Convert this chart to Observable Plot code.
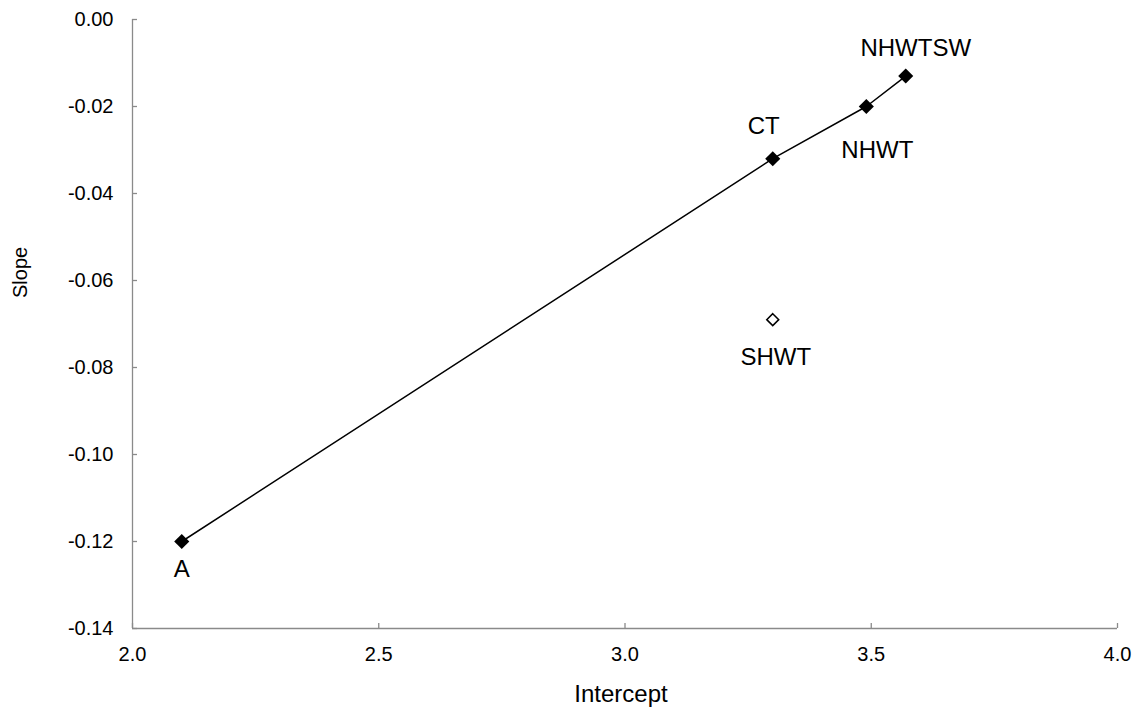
<!DOCTYPE html>
<html>
<head>
<meta charset="utf-8">
<script src="https://cdn.jsdelivr.net/npm/d3@7"></script>
<script src="https://cdn.jsdelivr.net/npm/@observablehq/plot@0.6"></script>
<style>
  html, body { margin: 0; padding: 0; background: #fff; }
  #chart svg { display: block; }
</style>
</head>
<body>
<div id="chart"></div>
<script>
// Data
const names      = ["A", "CT", "NHWT", "NHWTSW", "SHWT"];
const intercepts = [2.10, 3.30, 3.49, 3.57, 3.30];
const slopes     = [-0.120, -0.032, -0.020, -0.013, -0.069];
const onLine     = [true, true, true, true, false];

const xTicks = [2.0, 2.5, 3.0, 3.5, 4.0];
const yTicks = [0.00, -0.02, -0.04, -0.06, -0.08, -0.10, -0.12, -0.14];

const data = names.map((n, i) => ({name: n, x: intercepts[i], y: slopes[i], line: onLine[i]}));
const lineData = data.filter(d => d.line).sort((a, b) => a.x - b.x);
const openData = data.filter(d => !d.line);

const font = "'Liberation Sans', Arial, sans-serif";
const axisGray = "#8a8a8a";

// label offsets (style), per label
const labelOffsets = {A: [0, 28], CT: [-9, -32], NHWT: [11, 44], NHWTSW: [10, -28], SHWT: [3, 38]};

const plot = Plot.plot({
  width: 1132,
  height: 714,
  marginLeft: 132,
  marginRight: 15,
  marginTop: 19,
  marginBottom: 86,
  style: {fontFamily: font, fontSize: "20px", color: "#000", background: "#fff"},
  x: {domain: [2.0, 4.0]},
  y: {domain: [-0.14, 0.00]},
  marks: [
    Plot.ruleX([2.0], {stroke: axisGray, strokeWidth: 1.3}),
    Plot.ruleY([-0.14], {stroke: axisGray, strokeWidth: 1.3}),
    Plot.axisY({
      ticks: yTicks, tickFormat: d => d.toFixed(2),
      tickSize: -5, tickPadding: 24, stroke: axisGray, strokeWidth: 1.3,
      fontSize: 20, label: null, fill: "#000"
    }),
    Plot.axisX({
      ticks: xTicks, tickFormat: d => d.toFixed(1),
      tickSize: -5, tickPadding: 23, stroke: axisGray, strokeWidth: 1.3,
      fontSize: 20, label: null, fill: "#000"
    }),
    Plot.text(["Slope"], {frameAnchor: "left", dx: -112, dy: -26, rotate: -90, fontSize: 20, fill: "#000"}),
    Plot.text(["Intercept"], {frameAnchor: "bottom", dx: -4, dy: 73, fontSize: 24, fill: "#000"}),
    Plot.line(lineData, {x: "x", y: "y", stroke: "#000", strokeWidth: 1.5}),
    Plot.dot(lineData, {x: "x", y: "y", symbol: "diamond2", r: 6.8, fill: "#000", stroke: "none"}),
    Plot.dot(openData, {x: "x", y: "y", symbol: "diamond2", r: 5.4, fill: "#fff", stroke: "#000", strokeWidth: 1.5}),
    ...names.map(n => Plot.text(data.filter(d => d.name === n), {
      x: "x", y: "y", text: "name",
      dx: labelOffsets[n][0], dy: labelOffsets[n][1],
      fontSize: 24, fill: "#000"
    }))
  ]
});
document.getElementById("chart").appendChild(plot);
</script>
</body>
</html>
